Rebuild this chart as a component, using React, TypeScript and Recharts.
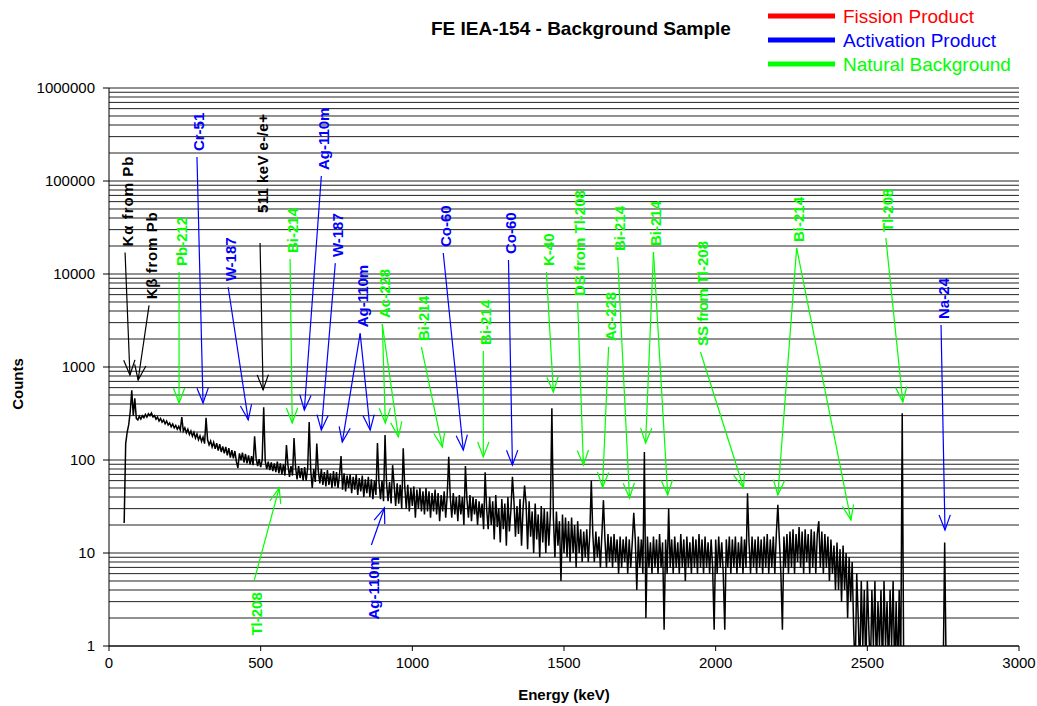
import React from "react";
import {
  LineChart,
  Line,
  XAxis,
  YAxis,
  CartesianGrid,
  ReferenceLine,
  Label,
} from "recharts";

const FONT = "Arial, 'Liberation Sans', Helvetica, sans-serif";

// spectrum: counts per 5 keV step starting at 50 keV
const startKeV = 50;
const stepKeV = 5;
const counts = [
  21, 150, 200, 240, 330, 560, 300, 460, 280, 270, 295, 275, 300, 285, 310, 290, 315, 300, 320, 290,
  300, 275, 290, 262, 280, 255, 270, 245, 262, 238, 250, 228, 244, 222, 236, 214, 230, 210, 290, 205,
  222, 196, 214, 188, 205, 180, 198, 172, 190, 165, 182, 158, 176, 150, 285, 165, 145, 160, 138, 155,
  132, 152, 126, 148, 122, 140, 118, 138, 112, 134, 106, 128, 104, 125, 96, 82, 118, 100, 120, 94,
  116, 92, 112, 90, 110, 88, 180, 104, 86, 102, 84, 100, 370, 98, 80, 96, 78, 94, 76, 92,
  74, 96, 72, 92, 70, 90, 68, 145, 88, 66, 86, 68, 172, 84, 62, 86, 64, 82, 60, 84,
  60, 82, 256, 78, 50, 80, 58, 150, 76, 56, 80, 54, 74, 52, 78, 54, 72, 50, 76, 52,
  74, 50, 70, 110, 48, 72, 46, 68, 50, 70, 44, 66, 48, 70, 42, 64, 46, 68, 40, 62,
  44, 66, 40, 62, 38, 60, 42, 152, 58, 38, 60, 36, 186, 56, 36, 58, 34, 88, 54, 32,
  56, 34, 54, 30, 134, 52, 30, 54, 28, 50, 32, 52, 24, 48, 30, 50, 28, 46, 26, 50,
  28, 46, 24, 44, 28, 48, 26, 44, 22, 42, 28, 46, 24, 42, 108, 40, 24, 44, 26, 40,
  22, 42, 26, 40, 20, 86, 38, 24, 42, 22, 40, 26, 38, 20, 36, 24, 34, 18, 74, 30,
  18, 40, 20, 36, 14, 42, 19, 30, 13, 38, 18, 34, 12, 40, 17, 29, 66, 36, 15, 32,
  16, 38, 12, 30, 53, 34, 11, 36, 15, 28, 10, 34, 14, 26, 9, 32, 13, 30, 10, 28,
  12, 26, 360, 24, 9, 28, 12, 22, 5, 26, 10, 24, 9, 22, 8, 24, 10, 20, 7, 22,
  10, 18, 8, 17, 9, 18, 8, 16, 60, 16, 8, 17, 9, 15, 7, 16, 37, 14, 7, 16,
  8, 15, 7, 16, 8, 14, 6, 15, 7, 14, 8, 15, 6, 14, 7, 13, 27, 14, 4, 15,
  7, 14, 6, 122, 2, 15, 7, 13, 6, 15, 7, 14, 6, 16, 7, 13, 1.5, 14, 6, 30,
  7, 14, 6, 15, 7, 13, 6, 16, 7, 14, 5, 15, 7, 13, 6, 15, 7, 14, 6, 16,
  7, 14, 6, 15, 7, 13, 6, 14, 7, 1.5, 14, 6, 15, 7, 13, 6, 1.5, 14, 7, 15,
  6, 14, 7, 15, 6, 13, 7, 15, 6, 14, 7, 44, 13, 6, 15, 7, 14, 6, 15, 7,
  14, 6, 15, 7, 16, 6, 14, 7, 15, 6, 16, 33, 14, 6, 1.5, 15, 7, 16, 6, 17,
  7, 18, 6, 16, 8, 19, 7, 17, 6, 18, 8, 16, 6, 18, 7, 17, 6, 16, 22, 7,
  17, 6, 16, 7, 15, 5, 14, 6, 12, 4, 13, 4, 11, 3, 12, 4, 10, 2, 9, 3,
  8, 1.5, 0.5, 6, 2, 0.5, 5, 1, 4, 0.5, 5, 1.5, 0.5, 4, 1, 5, 0.5, 3, 1, 4,
  0.5, 5, 1, 3, 0.5, 4, 1, 5, 0.5, 3, 0.5, 4, 0.5, 318, 0.5, 0.5, 0.5, 0.5, 0.5, 0.5,
  0.5, 0.5, 0.5, 0.5, 0.5, 0.5, 0.5, 0.5, 0.5, 0.5, 0.5, 0.5, 0.5, 0.5, 0.5, 0.5, 0.5, 0.5, 0.5, 0.5,
  0.5, 13, 0.5,
];

const xTicks = [0, 500, 1000, 1500, 2000, 2500, 3000];
const yTicks = [1, 10, 100, 1000, 10000, 100000, 1000000];
const gridValues = [
  1, 2, 3, 4, 5, 6, 7, 8, 9,
  10, 20, 30, 40, 50, 60, 70, 80, 90,
  100, 200, 300, 400, 500, 600, 700, 800, 900,
  1000, 2000, 3000, 4000, 5000, 6000, 7000, 8000, 9000,
  10000, 20000, 30000, 40000, 50000, 60000, 70000, 80000, 90000,
  100000, 200000, 300000, 400000, 500000, 600000, 700000, 800000, 900000,
  1000000,
];

const legendItems = [
  { name: "Fission Product", color: "#ff0000" },
  { name: "Activation Product", color: "#0000ff" },
  { name: "Natural Background", color: "#00ff00" },
];

const BLACK = "#000000";
const BLUE = "#0000ff";
const GREEN = "#00ff00";

type Note = {
  text: string;
  color: string;
  from: [number, number];
  to: [number, number][];
  below?: boolean;
  gap?: number;
  len?: number;
};

// peak labels: arrow start (keV, counts) and arrow tips
const notes: Note[] = [
  { text: "K\u03b1 from Pb", color: BLACK, from: [53, 17000], to: [[69, 820]], len: 90 },
  { text: "K\u03b2 from Pb", color: BLACK, from: [132, 4600], to: [[96, 725]], len: 87 },
  { text: "Pb-212", color: GREEN, from: [231, 10500], to: [[231, 410]] },
  { text: "Cr-51", color: BLUE, from: [290, 181000], to: [[310, 410]] },
  { text: "W-187", color: BLUE, from: [393, 7200], to: [[459, 270]] },
  { text: "511 keV e-/e+", color: BLACK, from: [498, 21500], to: [[508, 570]], gap: 30, len: 99 },
  { text: "Bi-214", color: GREEN, from: [597, 14500], to: [[604, 250]] },
  { text: "Ag-110m", color: BLUE, from: [700, 113000], to: [[644, 345]] },
  { text: "W-187", color: BLUE, from: [746, 13100], to: [[700, 210]] },
  { text: "Ag-110m", color: BLUE, from: [828, 2300], to: [[769, 156], [861, 210]] },
  { text: "Ac-228", color: GREEN, from: [901, 2900], to: [[911, 250], [954, 177]] },
  { text: "Bi-214", color: GREEN, from: [1030, 1640], to: [[1099, 138]] },
  { text: "Co-60", color: BLUE, from: [1102, 16800], to: [[1168, 128]] },
  { text: "Bi-214", color: GREEN, from: [1234, 1490], to: [[1234, 108]] },
  { text: "Co-60", color: BLUE, from: [1317, 14150], to: [[1330, 88]] },
  { text: "K-40", color: GREEN, from: [1442, 10500], to: [[1465, 538]] },
  { text: "DS from Tl-208", color: GREEN, from: [1545, 5000], to: [[1564, 88]] },
  { text: "Ac-228", color: GREEN, from: [1647, 1640], to: [[1627, 51]] },
  { text: "Bi-214", color: GREEN, from: [1677, 15240], to: [[1716, 39]] },
  { text: "Bi-214", color: GREEN, from: [1795, 17260], to: [[1769, 152], [1842, 42]] },
  { text: "SS from Tl-208", color: GREEN, from: [1950, 1450], to: [[2092, 50]] },
  { text: "Bi-214", color: GREEN, from: [2267, 19050], to: [[2205, 42], [2446, 22.6]] },
  { text: "Tl-208", color: GREEN, from: [2561, 24400], to: [[2617, 421]] },
  { text: "Na-24", color: BLUE, from: [2743, 2830], to: [[2756, 17.7]] },
  { text: "Tl-208", color: GREEN, from: [479, 5.1], to: [[561, 50]], below: true },
  { text: "Ag-110m", color: BLUE, from: [865, 12.2], to: [[908, 30.5]], below: true },
];

const spectrum = counts.map((c, i) => ({ energy: startKeV + i * stepKeV, counts: c }));

const makeArrow = (note: Note, withText: boolean) => (p: any) => {
  const { x1, y1, x2, y2 } = p;
  const ang = Math.atan2(y2 - y1, x2 - x1);
  const len = 16;
  const spread = 0.36;
  const ax = x2 + len * Math.cos(ang + Math.PI - spread);
  const ay = y2 + len * Math.sin(ang + Math.PI - spread);
  const bx = x2 + len * Math.cos(ang + Math.PI + spread);
  const by = y2 + len * Math.sin(ang + Math.PI + spread);
  const gap = note.gap ?? (note.below ? 12 : 6);
  const tx = x1 + 2;
  const ty = note.below ? y1 + gap : y1 - gap;
  return (
    <g>
      <line x1={x1} y1={y1} x2={x2} y2={y2} stroke={note.color} strokeWidth={1.2} />
      <polyline
        points={`${ax},${ay} ${x2},${y2} ${bx},${by}`}
        fill="none"
        stroke={note.color}
        strokeWidth={1.2}
      />
      {withText && (
        <text
          x={tx}
          y={ty}
          transform={`rotate(-90 ${tx} ${ty})`}
          textAnchor={note.below ? "end" : "start"}
          dominantBaseline="central"
          fill={note.color}
          fontSize={15}
          fontWeight="bold"
          fontFamily={FONT}
          textLength={note.len}
          lengthAdjust={note.len ? "spacing" : undefined}
        >
          {note.text}
        </text>
      )}
    </g>
  );
};

export default function App() {
  return (
    <div
      style={{
        position: "absolute",
        left: 0,
        top: 0,
        width: 1037,
        height: 706,
        background: "#ffffff",
      }}
    >
      <LineChart
        width={1037}
        height={706}
        data={spectrum}
        margin={{ top: 88, right: 18, bottom: 0, left: 0 }}
      >
        <CartesianGrid
          vertical={false}
          horizontalValues={gridValues}
          stroke="#222222"
          strokeWidth={1}
        />
        <XAxis
          dataKey="energy"
          type="number"
          domain={[0, 3000]}
          ticks={xTicks}
          interval={0}
          allowDataOverflow
          height={60}
          tickSize={5}
          tickMargin={6}
          stroke={BLACK}
          tick={{ fill: BLACK, fontSize: 15, fontFamily: FONT }}
        >
          <Label
            content={(props: any) => {
              const vb = props.viewBox;
              return (
                <text
                  x={vb.x + vb.width / 2}
                  y={vb.y + 54}
                  textAnchor="middle"
                  fontSize={15}
                  fontWeight="bold"
                  fontFamily={FONT}
                  fill={BLACK}
                >
                  Energy (keV)
                </text>
              );
            }}
          />
        </XAxis>
        <YAxis
          scale="log"
          domain={[1, 1000000]}
          ticks={yTicks}
          interval={0}
          allowDataOverflow
          width={109}
          tickSize={6}
          tickMargin={8}
          stroke={BLACK}
          tickFormatter={(v: number) => String(v)}
          tick={{ fill: BLACK, fontSize: 15, fontFamily: FONT }}
        >
          <Label
            content={(props: any) => {
              const vb = props.viewBox;
              const cx = 17;
              const cy = vb.y + vb.height / 2 + 17;
              return (
                <text
                  x={cx}
                  y={cy}
                  transform={`rotate(-90 ${cx} ${cy})`}
                  textAnchor="middle"
                  dominantBaseline="central"
                  fontSize={15}
                  fontWeight="bold"
                  fontFamily={FONT}
                  fill={BLACK}
                >
                  Counts
                </text>
              );
            }}
          />
        </YAxis>
        <Line
          dataKey="counts"
          type="linear"
          stroke={BLACK}
          strokeWidth={1.5}
          dot={false}
          activeDot={false}
          isAnimationActive={false}
        />
        {notes.flatMap((n, ni) =>
          n.to.map((t, ti) => (
            <ReferenceLine
              key={`${ni}-${ti}`}
              segment={[
                { x: n.from[0], y: n.from[1] },
                { x: t[0], y: t[1] },
              ]}
              ifOverflow="visible"
              shape={makeArrow(n, ti === 0)}
            />
          ))
        )}
      </LineChart>
      <svg
        width={1037}
        height={80}
        style={{ position: "absolute", left: 0, top: 0, pointerEvents: "none" }}
      >
        <text x={431} y={35} fontSize={19} fontWeight="bold" fontFamily={FONT} fill={BLACK}>
          FE IEA-154 - Background Sample
        </text>
        {legendItems.map((it, i) => (
          <g key={it.name}>
            <line
              x1={768}
              x2={835}
              y1={16 + 24 * i}
              y2={16 + 24 * i}
              stroke={it.color}
              strokeWidth={5}
            />
            <text x={843} y={23 + 24 * i} fontSize={19} fontFamily={FONT} fill={it.color}>
              {it.name}
            </text>
          </g>
        ))}
      </svg>
    </div>
  );
}
